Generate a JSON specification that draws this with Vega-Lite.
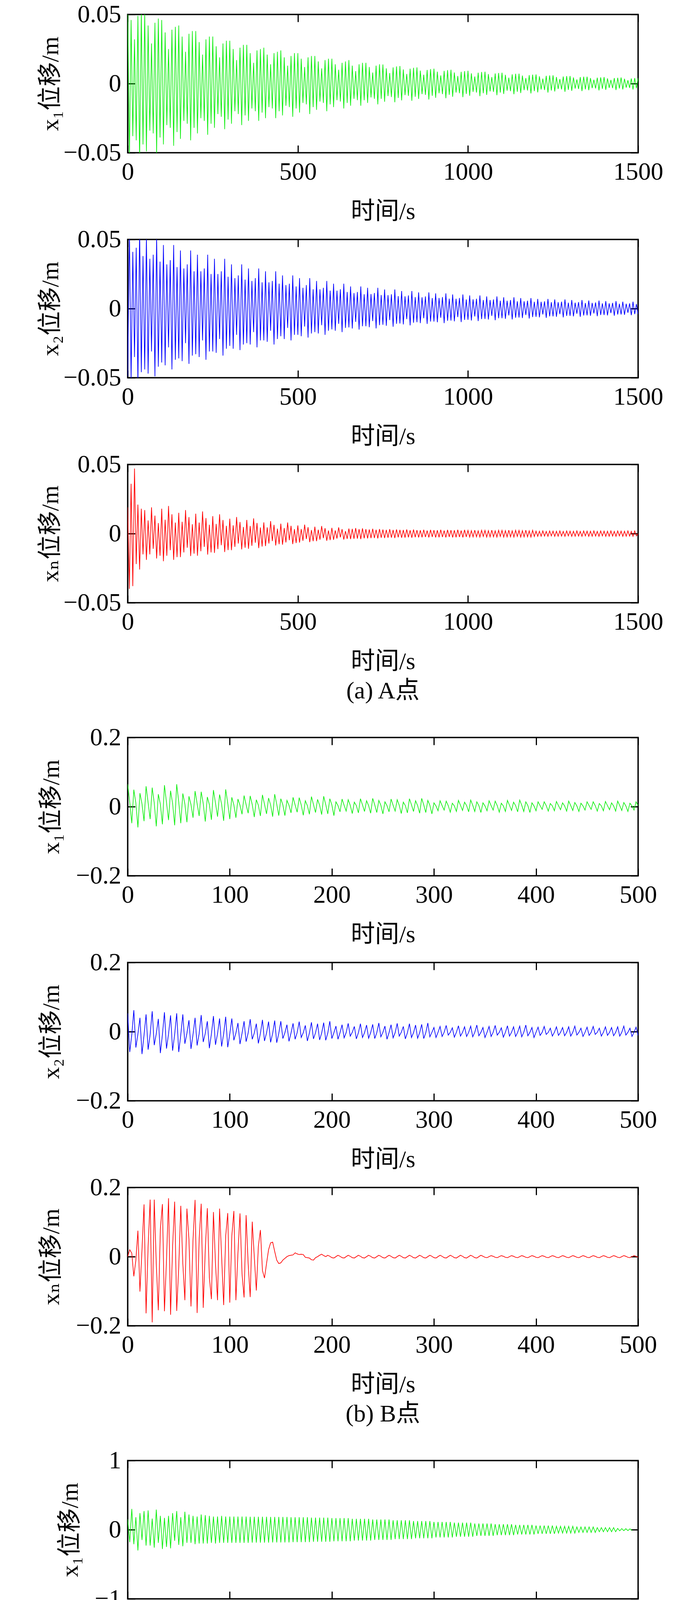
{
"$schema":"https://vega.github.io/schema/vega-lite/v6.json",
"background":"white",
"padding":{"left":97,"top":3,"right":5,"bottom":5},
"config":{
"view":{"stroke":"#000000","strokeWidth":3.5},
"axis":{"domain":false,"grid":false,"ticks":true,"tickSize":-19,"tickWidth":3,"tickColor":"#000000","labelFont":"Liberation Serif","labelFontSize":64,"labelColor":"#000000","labelFlush":false,"labelOverlap":false,"labelBound":false,"titleFont":"Liberation Serif, Noto Sans CJK SC, DejaVu Serif","titleFontSize":62,"titleFontWeight":"normal","titleColor":"#000000"},
"axisX":{"labelPadding":36,"titlePadding":39},
"axisY":{"labelPadding":36,"titlePadding":30},
"title":{"font":"Liberation Serif, Noto Sans CJK SC","fontSize":62,"fontWeight":"normal","color":"#000000"}
},
"datasets":{
"A":[
{"t":0,"a":0.058,"b":-0.049,"n":0.019},{"t":5,"a":-0.055,"b":0.058,"n":-0.04},{"t":10,"a":0.046,"b":-0.052,"n":0.036},{"t":15,"a":-0.038,"b":0.041,"n":-0.038},{"t":20,"a":0.032,"b":-0.035,"n":0.047},{"t":25,"a":-0.041,"b":0.044,"n":-0.022},{"t":30,"a":0.049,"b":-0.055,"n":0.021},{"t":35,"a":-0.057,"b":0.058,"n":-0.026},{"t":40,"a":0.052,"b":-0.046,"n":0.018},{"t":45,"a":-0.044,"b":0.038,"n":-0.015},
{"t":50,"a":0.052,"b":-0.044,"n":0.017},{"t":55,"a":-0.049,"b":0.052,"n":-0.019},{"t":60,"a":0.042,"b":-0.047,"n":0.0095},{"t":65,"a":-0.034,"b":0.036,"n":-0.015},{"t":70,"a":0.029,"b":-0.031,"n":0.019},{"t":75,"a":-0.036,"b":0.039,"n":-0.011},{"t":80,"a":0.044,"b":-0.049,"n":0.013},{"t":85,"a":-0.051,"b":0.052,"n":-0.018},{"t":90,"a":0.047,"b":-0.042,"n":0.0076},{"t":95,"a":-0.039,"b":0.034,"n":-0.016},
{"t":100,"a":0.046,"b":-0.039,"n":0.018},{"t":105,"a":-0.044,"b":0.046,"n":-0.02},{"t":110,"a":0.037,"b":-0.041,"n":0.01},{"t":115,"a":-0.03,"b":0.032,"n":-0.016},{"t":120,"a":0.025,"b":-0.028,"n":0.02},{"t":125,"a":-0.032,"b":0.035,"n":-0.012},{"t":130,"a":0.039,"b":-0.044,"n":0.014},{"t":135,"a":-0.045,"b":0.046,"n":-0.019},{"t":140,"a":0.041,"b":-0.037,"n":0.008},{"t":145,"a":-0.035,"b":0.03,"n":-0.017},
{"t":150,"a":0.042,"b":-0.036,"n":0.015},{"t":155,"a":-0.04,"b":0.042,"n":-0.017},{"t":160,"a":0.034,"b":-0.038,"n":0.0085},{"t":165,"a":-0.027,"b":0.029,"n":-0.0136},{"t":170,"a":0.023,"b":-0.025,"n":0.017},{"t":175,"a":-0.029,"b":0.032,"n":-0.0102},{"t":180,"a":0.036,"b":-0.04,"n":0.0119},{"t":185,"a":-0.041,"b":0.042,"n":-0.0162},{"t":190,"a":0.038,"b":-0.034,"n":0.0068},{"t":195,"a":-0.032,"b":0.027,"n":-0.0145},
{"t":200,"a":0.038,"b":-0.033,"n":0.0144},{"t":205,"a":-0.036,"b":0.039,"n":-0.016},{"t":210,"a":0.03,"b":-0.035,"n":0.008},{"t":215,"a":-0.025,"b":0.027,"n":-0.0128},{"t":220,"a":0.021,"b":-0.023,"n":0.016},{"t":225,"a":-0.027,"b":0.029,"n":-0.0096},{"t":230,"a":0.032,"b":-0.037,"n":0.0112},{"t":235,"a":-0.037,"b":0.039,"n":-0.0152},{"t":240,"a":0.034,"b":-0.031,"n":0.0064},{"t":245,"a":-0.029,"b":0.025,"n":-0.0136},
{"t":250,"a":0.034,"b":-0.031,"n":0.0126},{"t":255,"a":-0.032,"b":0.036,"n":-0.014},{"t":260,"a":0.027,"b":-0.032,"n":0.007},{"t":265,"a":-0.022,"b":0.025,"n":-0.0112},{"t":270,"a":0.019,"b":-0.022,"n":0.014},{"t":275,"a":-0.024,"b":0.027,"n":-0.0084},{"t":280,"a":0.029,"b":-0.034,"n":0.0098},{"t":285,"a":-0.033,"b":0.036,"n":-0.0133},{"t":290,"a":0.031,"b":-0.029,"n":0.0056},{"t":295,"a":-0.026,"b":0.023,"n":-0.0119},
{"t":300,"a":0.031,"b":-0.027,"n":0.0108},{"t":305,"a":-0.029,"b":0.032,"n":-0.012},{"t":310,"a":0.025,"b":-0.029,"n":0.006},{"t":315,"a":-0.02,"b":0.022,"n":-0.0096},{"t":320,"a":0.017,"b":-0.019,"n":0.012},{"t":325,"a":-0.022,"b":0.024,"n":-0.0072},{"t":330,"a":0.026,"b":-0.03,"n":0.0084},{"t":335,"a":-0.03,"b":0.032,"n":-0.0114},{"t":340,"a":0.028,"b":-0.026,"n":0.0048},{"t":345,"a":-0.023,"b":0.021,"n":-0.0102},
{"t":350,"a":0.028,"b":-0.025,"n":0.0099},{"t":355,"a":-0.027,"b":0.029,"n":-0.011},{"t":360,"a":0.022,"b":-0.026,"n":0.0055},{"t":365,"a":-0.018,"b":0.02,"n":-0.0088},{"t":370,"a":0.015,"b":-0.017,"n":0.011},{"t":375,"a":-0.02,"b":0.022,"n":-0.0066},{"t":380,"a":0.024,"b":-0.028,"n":0.0077},{"t":385,"a":-0.027,"b":0.029,"n":-0.0105},{"t":390,"a":0.025,"b":-0.023,"n":0.0044},{"t":395,"a":-0.021,"b":0.019,"n":-0.0094},
{"t":400,"a":0.026,"b":-0.023,"n":0.0081},{"t":405,"a":-0.025,"b":0.027,"n":-0.009},{"t":410,"a":0.021,"b":-0.024,"n":0.0045},{"t":415,"a":-0.017,"b":0.019,"n":-0.0072},{"t":420,"a":0.014,"b":-0.016,"n":0.009},{"t":425,"a":-0.018,"b":0.02,"n":-0.0054},{"t":430,"a":0.022,"b":-0.026,"n":0.0063},{"t":435,"a":-0.025,"b":0.027,"n":-0.0086},{"t":440,"a":0.023,"b":-0.022,"n":0.0036},{"t":445,"a":-0.02,"b":0.018,"n":-0.0077},
{"t":450,"a":0.024,"b":-0.02,"n":0.0072},{"t":455,"a":-0.023,"b":0.024,"n":-0.008},{"t":460,"a":0.019,"b":-0.022,"n":0.004},{"t":465,"a":-0.016,"b":0.017,"n":-0.0064},{"t":470,"a":0.013,"b":-0.014,"n":0.008},{"t":475,"a":-0.017,"b":0.018,"n":-0.0048},{"t":480,"a":0.02,"b":-0.023,"n":0.0056},{"t":485,"a":-0.024,"b":0.024,"n":-0.0076},{"t":490,"a":0.022,"b":-0.019,"n":0.0032},{"t":495,"a":-0.018,"b":0.016,"n":-0.0068},
{"t":500,"a":0.022,"b":-0.019,"n":0.0059},{"t":505,"a":-0.021,"b":0.022,"n":-0.0065},{"t":510,"a":0.018,"b":-0.02,"n":0.0033},{"t":515,"a":-0.014,"b":0.015,"n":-0.0052},{"t":520,"a":0.012,"b":-0.013,"n":0.0065},{"t":525,"a":-0.015,"b":0.017,"n":-0.0039},{"t":530,"a":0.019,"b":-0.021,"n":0.0046},{"t":535,"a":-0.022,"b":0.022,"n":-0.0062},{"t":540,"a":0.02,"b":-0.018,"n":0.0026},{"t":545,"a":-0.017,"b":0.014,"n":-0.0055},
{"t":550,"a":0.02,"b":-0.017,"n":0.005},{"t":555,"a":-0.019,"b":0.02,"n":-0.0055},{"t":560,"a":0.016,"b":-0.018,"n":0.0028},{"t":565,"a":-0.013,"b":0.014,"n":-0.0044},{"t":570,"a":0.011,"b":-0.012,"n":0.0055},{"t":575,"a":-0.014,"b":0.015,"n":-0.0033},{"t":580,"a":0.017,"b":-0.019,"n":0.0039},{"t":585,"a":-0.02,"b":0.02,"n":-0.0052},{"t":590,"a":0.018,"b":-0.016,"n":0.0022},{"t":595,"a":-0.015,"b":0.013,"n":-0.0047},
{"t":600,"a":0.018,"b":-0.015,"n":0.0041},{"t":605,"a":-0.017,"b":0.018,"n":-0.0045},{"t":610,"a":0.014,"b":-0.016,"n":0.0023},{"t":615,"a":-0.012,"b":0.013,"n":-0.0036},{"t":620,"a":0.01,"b":-0.011,"n":0.0045},{"t":625,"a":-0.013,"b":0.014,"n":-0.0027},{"t":630,"a":0.015,"b":-0.017,"n":0.0032},{"t":635,"a":-0.018,"b":0.018,"n":-0.0043},{"t":640,"a":0.016,"b":-0.014,"n":0.0018},{"t":645,"a":-0.014,"b":0.012,"n":-0.0038},
{"t":650,"a":0.017,"b":-0.0136,"n":0.0036},{"t":655,"a":-0.016,"b":0.016,"n":-0.004},{"t":660,"a":0.013,"b":-0.0144,"n":0.0034},{"t":665,"a":-0.011,"b":0.0112,"n":-0.0038},{"t":670,"a":0.009,"b":-0.0096,"n":0.004},{"t":675,"a":-0.012,"b":0.012,"n":-0.0036},{"t":680,"a":0.014,"b":-0.0152,"n":0.0032},{"t":685,"a":-0.016,"b":0.016,"n":-0.004},{"t":690,"a":0.015,"b":-0.0128,"n":0.0038},{"t":695,"a":-0.012,"b":0.0104,"n":-0.0034},
{"t":700,"a":0.015,"b":-0.0128,"n":0.0032},{"t":705,"a":-0.014,"b":0.015,"n":-0.0035},{"t":710,"a":0.012,"b":-0.0135,"n":0.003},{"t":715,"a":-0.01,"b":0.0105,"n":-0.0033},{"t":720,"a":0.008,"b":-0.009,"n":0.0035},{"t":725,"a":-0.011,"b":0.0113,"n":-0.0032},{"t":730,"a":0.013,"b":-0.0143,"n":0.0028},{"t":735,"a":-0.015,"b":0.015,"n":-0.0035},{"t":740,"a":0.014,"b":-0.012,"n":0.0033},{"t":745,"a":-0.011,"b":0.0098,"n":-0.003},
{"t":750,"a":0.0138,"b":-0.0117,"n":0.0029},{"t":755,"a":-0.0131,"b":0.0138,"n":-0.0032},{"t":760,"a":0.011,"b":-0.0124,"n":0.0027},{"t":765,"a":-0.009,"b":0.0097,"n":-0.003},{"t":770,"a":0.0076,"b":-0.0083,"n":0.0032},{"t":775,"a":-0.0097,"b":0.0104,"n":-0.0029},{"t":780,"a":0.0117,"b":-0.0131,"n":0.0026},{"t":785,"a":-0.0135,"b":0.0138,"n":-0.0032},{"t":790,"a":0.0124,"b":-0.011,"n":0.003},{"t":795,"a":-0.0104,"b":0.009,"n":-0.0027},
{"t":800,"a":0.0127,"b":-0.0108,"n":0.0027},{"t":805,"a":-0.0121,"b":0.0127,"n":-0.003},{"t":810,"a":0.0102,"b":-0.0114,"n":0.0026},{"t":815,"a":-0.0083,"b":0.0089,"n":-0.0029},{"t":820,"a":0.007,"b":-0.0076,"n":0.003},{"t":825,"a":-0.0089,"b":0.0095,"n":-0.0027},{"t":830,"a":0.0108,"b":-0.0121,"n":0.0024},{"t":835,"a":-0.0124,"b":0.0127,"n":-0.003},{"t":840,"a":0.0114,"b":-0.0102,"n":0.0029},{"t":845,"a":-0.0095,"b":0.0083,"n":-0.0026},
{"t":850,"a":0.0117,"b":-0.0099,"n":0.0025},{"t":855,"a":-0.0111,"b":0.0117,"n":-0.0028},{"t":860,"a":0.0094,"b":-0.0105,"n":0.0024},{"t":865,"a":-0.0076,"b":0.0082,"n":-0.0027},{"t":870,"a":0.0064,"b":-0.007,"n":0.0028},{"t":875,"a":-0.0082,"b":0.0088,"n":-0.0025},{"t":880,"a":0.0099,"b":-0.0111,"n":0.0022},{"t":885,"a":-0.0115,"b":0.0117,"n":-0.0028},{"t":890,"a":0.0105,"b":-0.0094,"n":0.0027},{"t":895,"a":-0.0088,"b":0.0076,"n":-0.0024},
{"t":900,"a":0.0108,"b":-0.0094,"n":0.0025},{"t":905,"a":-0.0103,"b":0.011,"n":-0.0028},{"t":910,"a":0.0086,"b":-0.0099,"n":0.0024},{"t":915,"a":-0.007,"b":0.0077,"n":-0.0027},{"t":920,"a":0.0059,"b":-0.0066,"n":0.0028},{"t":925,"a":-0.0076,"b":0.0083,"n":-0.0025},{"t":930,"a":0.0092,"b":-0.0105,"n":0.0022},{"t":935,"a":-0.0106,"b":0.011,"n":-0.0028},{"t":940,"a":0.0097,"b":-0.0088,"n":0.0027},{"t":945,"a":-0.0081,"b":0.0072,"n":-0.0024},
{"t":950,"a":0.01,"b":-0.0087,"n":0.0025},{"t":955,"a":-0.0095,"b":0.0102,"n":-0.0028},{"t":960,"a":0.008,"b":-0.0092,"n":0.0024},{"t":965,"a":-0.0065,"b":0.0071,"n":-0.0027},{"t":970,"a":0.0055,"b":-0.0061,"n":0.0028},{"t":975,"a":-0.007,"b":0.0077,"n":-0.0025},{"t":980,"a":0.0085,"b":-0.0097,"n":0.0022},{"t":985,"a":-0.0098,"b":0.0102,"n":-0.0028},{"t":990,"a":0.009,"b":-0.0082,"n":0.0027},{"t":995,"a":-0.0075,"b":0.0066,"n":-0.0024},
{"t":1000,"a":0.0093,"b":-0.0081,"n":0.0023},{"t":1005,"a":-0.0088,"b":0.0095,"n":-0.0025},{"t":1010,"a":0.0074,"b":-0.0086,"n":0.0021},{"t":1015,"a":-0.006,"b":0.0067,"n":-0.0024},{"t":1020,"a":0.0051,"b":-0.0057,"n":0.0025},{"t":1025,"a":-0.0065,"b":0.0071,"n":-0.0023},{"t":1030,"a":0.0079,"b":-0.009,"n":0.002},{"t":1035,"a":-0.0091,"b":0.0095,"n":-0.0025},{"t":1040,"a":0.0084,"b":-0.0076,"n":0.0024},{"t":1045,"a":-0.007,"b":0.0062,"n":-0.0021},
{"t":1050,"a":0.0086,"b":-0.0075,"n":0.0023},{"t":1055,"a":-0.0082,"b":0.0088,"n":-0.0025},{"t":1060,"a":0.0069,"b":-0.0079,"n":0.0021},{"t":1065,"a":-0.0056,"b":0.0062,"n":-0.0024},{"t":1070,"a":0.0047,"b":-0.0053,"n":0.0025},{"t":1075,"a":-0.006,"b":0.0066,"n":-0.0023},{"t":1080,"a":0.0073,"b":-0.0084,"n":0.002},{"t":1085,"a":-0.0084,"b":0.0088,"n":-0.0025},{"t":1090,"a":0.0077,"b":-0.007,"n":0.0024},{"t":1095,"a":-0.0065,"b":0.0057,"n":-0.0021},
{"t":1100,"a":0.0079,"b":-0.007,"n":0.0023},{"t":1105,"a":-0.0075,"b":0.0082,"n":-0.0025},{"t":1110,"a":0.0063,"b":-0.0074,"n":0.0021},{"t":1115,"a":-0.0051,"b":0.0057,"n":-0.0024},{"t":1120,"a":0.0043,"b":-0.0049,"n":0.0025},{"t":1125,"a":-0.0055,"b":0.0062,"n":-0.0023},{"t":1130,"a":0.0067,"b":-0.0078,"n":0.002},{"t":1135,"a":-0.0077,"b":0.0082,"n":-0.0025},{"t":1140,"a":0.0071,"b":-0.0066,"n":0.0024},{"t":1145,"a":-0.0059,"b":0.0053,"n":-0.0021},
{"t":1150,"a":0.0072,"b":-0.0065,"n":0.0023},{"t":1155,"a":-0.0068,"b":0.0076,"n":-0.0025},{"t":1160,"a":0.0058,"b":-0.0068,"n":0.0021},{"t":1165,"a":-0.0047,"b":0.0053,"n":-0.0024},{"t":1170,"a":0.004,"b":-0.0046,"n":0.0025},{"t":1175,"a":-0.005,"b":0.0057,"n":-0.0023},{"t":1180,"a":0.0061,"b":-0.0072,"n":0.002},{"t":1185,"a":-0.0071,"b":0.0076,"n":-0.0025},{"t":1190,"a":0.0065,"b":-0.0061,"n":0.0024},{"t":1195,"a":-0.0054,"b":0.0049,"n":-0.0021},
{"t":1200,"a":0.0066,"b":-0.006,"n":0.0018},{"t":1205,"a":-0.0063,"b":0.007,"n":-0.002},{"t":1210,"a":0.0053,"b":-0.0063,"n":0.0017},{"t":1215,"a":-0.0043,"b":0.0049,"n":-0.0019},{"t":1220,"a":0.0036,"b":-0.0042,"n":0.002},{"t":1225,"a":-0.0046,"b":0.0053,"n":-0.0018},{"t":1230,"a":0.0056,"b":-0.0067,"n":0.0016},{"t":1235,"a":-0.0065,"b":0.007,"n":-0.002},{"t":1240,"a":0.0059,"b":-0.0056,"n":0.0019},{"t":1245,"a":-0.005,"b":0.0046,"n":-0.0017},
{"t":1250,"a":0.006,"b":-0.0056,"n":0.0018},{"t":1255,"a":-0.0057,"b":0.0066,"n":-0.002},{"t":1260,"a":0.0048,"b":-0.0059,"n":0.0017},{"t":1265,"a":-0.0039,"b":0.0046,"n":-0.0019},{"t":1270,"a":0.0033,"b":-0.004,"n":0.002},{"t":1275,"a":-0.0042,"b":0.005,"n":-0.0018},{"t":1280,"a":0.0051,"b":-0.0063,"n":0.0016},{"t":1285,"a":-0.0059,"b":0.0066,"n":-0.002},{"t":1290,"a":0.0054,"b":-0.0053,"n":0.0019},{"t":1295,"a":-0.0045,"b":0.0043,"n":-0.0017},
{"t":1300,"a":0.0055,"b":-0.0053,"n":0.0018},{"t":1305,"a":-0.0052,"b":0.0062,"n":-0.002},{"t":1310,"a":0.0044,"b":-0.0056,"n":0.0017},{"t":1315,"a":-0.0036,"b":0.0043,"n":-0.0019},{"t":1320,"a":0.003,"b":-0.0037,"n":0.002},{"t":1325,"a":-0.0039,"b":0.0047,"n":-0.0018},{"t":1330,"a":0.0047,"b":-0.0059,"n":0.0016},{"t":1335,"a":-0.0054,"b":0.0062,"n":-0.002},{"t":1340,"a":0.005,"b":-0.005,"n":0.0019},{"t":1345,"a":-0.0041,"b":0.004,"n":-0.0017},
{"t":1350,"a":0.005,"b":-0.0049,"n":0.0018},{"t":1355,"a":-0.0048,"b":0.0058,"n":-0.002},{"t":1360,"a":0.004,"b":-0.0052,"n":0.0017},{"t":1365,"a":-0.0033,"b":0.0041,"n":-0.0019},{"t":1370,"a":0.0028,"b":-0.0035,"n":0.002},{"t":1375,"a":-0.0035,"b":0.0044,"n":-0.0018},{"t":1380,"a":0.0043,"b":-0.0055,"n":0.0016},{"t":1385,"a":-0.0049,"b":0.0058,"n":-0.002},{"t":1390,"a":0.0045,"b":-0.0046,"n":0.0019},{"t":1395,"a":-0.0038,"b":0.0038,"n":-0.0017},
{"t":1400,"a":0.0047,"b":-0.0046,"n":0.0018},{"t":1405,"a":-0.0045,"b":0.0054,"n":-0.002},{"t":1410,"a":0.0038,"b":-0.0049,"n":0.0017},{"t":1415,"a":-0.0031,"b":0.0038,"n":-0.0019},{"t":1420,"a":0.0026,"b":-0.0032,"n":0.002},{"t":1425,"a":-0.0033,"b":0.0041,"n":-0.0018},{"t":1430,"a":0.004,"b":-0.0051,"n":0.0016},{"t":1435,"a":-0.0046,"b":0.0054,"n":-0.002},{"t":1440,"a":0.0042,"b":-0.0043,"n":0.0019},{"t":1445,"a":-0.0035,"b":0.0035,"n":-0.0017},
{"t":1450,"a":0.0044,"b":-0.0043,"n":0.0018},{"t":1455,"a":-0.0042,"b":0.005,"n":-0.002},{"t":1460,"a":0.0035,"b":-0.0045,"n":0.0017},{"t":1465,"a":-0.0029,"b":0.0035,"n":-0.0019},{"t":1470,"a":0.0024,"b":-0.003,"n":0.002},{"t":1475,"a":-0.0031,"b":0.0038,"n":-0.0018},{"t":1480,"a":0.0037,"b":-0.0048,"n":0.0016},{"t":1485,"a":-0.0043,"b":0.005,"n":-0.002},{"t":1490,"a":0.004,"b":-0.004,"n":0.0019},{"t":1495,"a":-0.0033,"b":0.0033,"n":-0.0017},
{"t":1500,"a":0.004,"b":-0.004,"n":0}
],
"B":[
{"t":0,"a":0.065,"b":0.053,"n":0},{"t":2,"a":0.013,"b":-0.059,"n":0.02},{"t":4,"a":-0.048,"b":-0.009,"n":0.01},
{"t":6,"a":0.049,"b":0.062,"n":-0.057},{"t":8,"a":0.01,"b":-0.046,"n":-0.01},{"t":10,"a":-0.06,"b":-0.007,"n":0.075},
{"t":12,"a":0.039,"b":0.04,"n":-0.101},{"t":14,"a":0.008,"b":-0.065,"n":0.02},{"t":16,"a":-0.042,"b":-0.01,"n":0.151},
{"t":18,"a":0.059,"b":0.05,"n":-0.164},{"t":20,"a":0.012,"b":-0.052,"n":0.03},{"t":22,"a":-0.036,"b":-0.008,"n":0.165},
{"t":24,"a":0.055,"b":0.059,"n":-0.19},{"t":26,"a":0.011,"b":-0.039,"n":0.165},{"t":28,"a":-0.057,"b":-0.006,"n":-0.02},
{"t":30,"a":0.036,"b":0.037,"n":-0.155},{"t":32,"a":0.007,"b":-0.062,"n":0.08},{"t":34,"a":-0.051,"b":-0.009,"n":0.152},
{"t":36,"a":0.062,"b":0.056,"n":-0.158},{"t":38,"a":0.012,"b":-0.049,"n":-0.01},{"t":40,"a":-0.039,"b":-0.007,"n":0.169},
{"t":42,"a":0.046,"b":0.047,"n":-0.168},{"t":44,"a":0.009,"b":-0.055,"n":0.03},{"t":46,"a":-0.054,"b":-0.008,"n":0.159},
{"t":48,"a":0.065,"b":0.053,"n":-0.157},{"t":50,"a":0.013,"b":-0.059,"n":-0.03},{"t":52,"a":-0.048,"b":-0.009,"n":0.147},
{"t":54,"a":0.038,"b":0.05,"n":-0.02},{"t":56,"a":0.008,"b":-0.035,"n":-0.126},{"t":58,"a":-0.045,"b":-0.005,"n":0.139},
{"t":60,"a":0.03,"b":0.033,"n":0.05},{"t":62,"a":0.006,"b":-0.05,"n":-0.144},{"t":64,"a":-0.032,"b":-0.008,"n":0.05},
{"t":66,"a":0.045,"b":0.04,"n":0.164},{"t":68,"a":0.009,"b":-0.04,"n":-0.163},{"t":70,"a":-0.027,"b":-0.006,"n":0.05},
{"t":72,"a":0.043,"b":0.048,"n":0.153},{"t":74,"a":0.009,"b":-0.03,"n":-0.148},{"t":76,"a":-0.043,"b":-0.005,"n":0.02},
{"t":78,"a":0.028,"b":0.03,"n":0.14},{"t":80,"a":0.006,"b":-0.048,"n":-0.06},{"t":82,"a":-0.038,"b":-0.007,"n":-0.123},
{"t":84,"a":0.048,"b":0.045,"n":0.129},{"t":86,"a":0.01,"b":-0.038,"n":-0.02},{"t":88,"a":-0.029,"b":-0.006,"n":-0.126},
{"t":90,"a":0.035,"b":0.038,"n":0.139},{"t":92,"a":0.007,"b":-0.043,"n":0},{"t":94,"a":-0.041,"b":-0.006,"n":-0.14},
{"t":96,"a":0.05,"b":0.043,"n":0.06},{"t":98,"a":0.01,"b":-0.045,"n":0.126},{"t":100,"a":-0.036,"b":-0.007,"n":-0.133},
{"t":102,"a":0.027,"b":0.038,"n":0.06},{"t":104,"a":0.005,"b":-0.025,"n":0.132},{"t":106,"a":-0.032,"b":-0.004,"n":-0.126},
{"t":108,"a":0.022,"b":0.025,"n":0.01},{"t":110,"a":0.004,"b":-0.036,"n":0.125},{"t":112,"a":-0.022,"b":-0.005,"n":-0.05},
{"t":114,"a":0.032,"b":0.03,"n":-0.118},{"t":116,"a":0.006,"b":-0.029,"n":0.12},{"t":118,"a":-0.019,"b":-0.004,"n":-0.02},
{"t":120,"a":0.031,"b":0.036,"n":-0.117},{"t":122,"a":0.006,"b":-0.022,"n":0.101},{"t":124,"a":-0.03,"b":-0.004,"n":0},
{"t":126,"a":0.02,"b":0.023,"n":-0.098},{"t":128,"a":0.004,"b":-0.034,"n":0.03},{"t":130,"a":-0.027,"b":-0.005,"n":0.077},
{"t":132,"a":0.034,"b":0.034,"n":-0.04},{"t":134,"a":0.007,"b":-0.027,"n":-0.062},{"t":136,"a":-0.021,"b":-0.004,"n":-0.02},
{"t":138,"a":0.025,"b":0.029,"n":0.02},{"t":140,"a":0.005,"b":-0.031,"n":0.04},{"t":142,"a":-0.029,"b":-0.005,"n":0.042},
{"t":144,"a":0.036,"b":0.032,"n":0.015},{"t":146,"a":0.007,"b":-0.032,"n":-0.01},{"t":148,"a":-0.026,"b":-0.005,"n":-0.02},
{"t":150,"a":0.023,"b":0.03,"n":-0.018},{"t":152,"a":0.005,"b":-0.02,"n":-0.01},{"t":154,"a":-0.026,"b":-0.003,"n":-0.005},
{"t":156,"a":0.018,"b":0.02,"n":0},{"t":158,"a":0.004,"b":-0.028,"n":0.003},{"t":160,"a":-0.018,"b":-0.004,"n":0.004},
{"t":162,"a":0.027,"b":0.024,"n":0.005},{"t":164,"a":0.005,"b":-0.022,"n":0.011},{"t":166,"a":-0.016,"b":-0.003,"n":0.008},
{"t":168,"a":0.026,"b":0.029,"n":0.006},{"t":170,"a":0.005,"b":-0.017,"n":0.007},{"t":172,"a":-0.025,"b":-0.003,"n":0.006},
{"t":174,"a":0.017,"b":0.018,"n":-0.002},{"t":176,"a":0.003,"b":-0.027,"n":-0.003},{"t":178,"a":-0.022,"b":-0.004,"n":-0.004},
{"t":180,"a":0.029,"b":0.027,"n":-0.009},{"t":182,"a":0.006,"b":-0.021,"n":-0.01},{"t":184,"a":-0.017,"b":-0.003,"n":-0.003},
{"t":186,"a":0.021,"b":0.023,"n":0},{"t":188,"a":0.004,"b":-0.024,"n":0.004},{"t":190,"a":-0.023,"b":-0.004,"n":0.007},
{"t":192,"a":0.03,"b":0.026,"n":0.003},{"t":194,"a":0.006,"b":-0.025,"n":0},{"t":196,"a":-0.021,"b":-0.004,"n":0.004},
{"t":198,"a":0.023,"b":0.03,"n":0.001},{"t":200,"a":0.005,"b":-0.02,"n":-0.003},{"t":202,"a":-0.026,"b":-0.003,"n":-0.004},
{"t":204,"a":0.014,"b":0.016,"n":0},{"t":206,"a":0.003,"b":-0.022,"n":0.004},{"t":208,"a":-0.015,"b":-0.003,"n":0.001},
{"t":210,"a":0.022,"b":0.02,"n":-0.003},{"t":212,"a":0.004,"b":-0.018,"n":-0.004},{"t":214,"a":-0.013,"b":-0.003,"n":0},
{"t":216,"a":0.02,"b":0.024,"n":0.004},{"t":218,"a":0.004,"b":-0.013,"n":0.001},{"t":220,"a":-0.02,"b":-0.002,"n":-0.003},
{"t":222,"a":0.013,"b":0.015,"n":-0.004},{"t":224,"a":0.003,"b":-0.021,"n":0},{"t":226,"a":-0.018,"b":-0.003,"n":0.004},
{"t":228,"a":0.023,"b":0.023,"n":0.001},{"t":230,"a":0.005,"b":-0.017,"n":-0.003},{"t":232,"a":-0.014,"b":-0.003,"n":-0.004},
{"t":234,"a":0.017,"b":0.019,"n":0},{"t":236,"a":0.003,"b":-0.019,"n":0.004},{"t":238,"a":-0.019,"b":-0.003,"n":0.001},
{"t":240,"a":0.024,"b":0.021,"n":-0.003},{"t":242,"a":0.005,"b":-0.02,"n":-0.004},{"t":244,"a":-0.017,"b":-0.003,"n":0},
{"t":246,"a":0.018,"b":0.025,"n":0.004},{"t":248,"a":0.004,"b":-0.015,"n":0.001},{"t":250,"a":-0.021,"b":-0.002,"n":-0.003},
{"t":252,"a":0.014,"b":0.016,"n":-0.004},{"t":254,"a":0.003,"b":-0.022,"n":0},{"t":256,"a":-0.015,"b":-0.003,"n":0.004},
{"t":258,"a":0.022,"b":0.02,"n":0.001},{"t":260,"a":0.004,"b":-0.018,"n":-0.003},{"t":262,"a":-0.013,"b":-0.003,"n":-0.004},
{"t":264,"a":0.02,"b":0.024,"n":0},{"t":266,"a":0.004,"b":-0.013,"n":0.004},{"t":268,"a":-0.02,"b":-0.002,"n":0.001},
{"t":270,"a":0.013,"b":0.015,"n":-0.003},{"t":272,"a":0.003,"b":-0.021,"n":-0.004},{"t":274,"a":-0.018,"b":-0.003,"n":0},
{"t":276,"a":0.023,"b":0.023,"n":0.004},{"t":278,"a":0.005,"b":-0.017,"n":0.001},{"t":280,"a":-0.014,"b":-0.003,"n":-0.003},
{"t":282,"a":0.017,"b":0.019,"n":-0.004},{"t":284,"a":0.003,"b":-0.019,"n":0},{"t":286,"a":-0.019,"b":-0.003,"n":0.004},
{"t":288,"a":0.024,"b":0.021,"n":0.001},{"t":290,"a":0.005,"b":-0.02,"n":-0.003},{"t":292,"a":-0.017,"b":-0.003,"n":-0.004},
{"t":294,"a":0.018,"b":0.025,"n":0},{"t":296,"a":0.004,"b":-0.015,"n":0.004},{"t":298,"a":-0.021,"b":-0.002,"n":0.001},
{"t":300,"a":0.011,"b":0.012,"n":-0.003},{"t":302,"a":0.002,"b":-0.017,"n":-0.004},{"t":304,"a":-0.012,"b":-0.002,"n":0},
{"t":306,"a":0.017,"b":0.015,"n":0.004},{"t":308,"a":0.003,"b":-0.014,"n":0.001},{"t":310,"a":-0.01,"b":-0.002,"n":-0.003},
{"t":312,"a":0.016,"b":0.018,"n":-0.004},{"t":314,"a":0.003,"b":-0.01,"n":0},{"t":316,"a":-0.016,"b":-0.002,"n":0.004},
{"t":318,"a":0.01,"b":0.011,"n":0.001},{"t":320,"a":0.002,"b":-0.016,"n":-0.003},{"t":322,"a":-0.014,"b":-0.002,"n":-0.004},
{"t":324,"a":0.018,"b":0.017,"n":0},{"t":326,"a":0.004,"b":-0.013,"n":0.004},{"t":328,"a":-0.011,"b":-0.002,"n":0.001},
{"t":330,"a":0.013,"b":0.014,"n":-0.003},{"t":332,"a":0.003,"b":-0.014,"n":-0.004},{"t":334,"a":-0.015,"b":-0.002,"n":0},
{"t":336,"a":0.019,"b":0.016,"n":0.004},{"t":338,"a":0.004,"b":-0.015,"n":0.001},{"t":340,"a":-0.014,"b":-0.002,"n":-0.003},
{"t":342,"a":0.014,"b":0.019,"n":-0.004},{"t":344,"a":0.003,"b":-0.012,"n":0},{"t":346,"a":-0.017,"b":-0.002,"n":0.004},
{"t":348,"a":0.011,"b":0.012,"n":0.001},{"t":350,"a":0.002,"b":-0.017,"n":-0.002},{"t":352,"a":-0.012,"b":-0.002,"n":-0.003},
{"t":354,"a":0.017,"b":0.015,"n":0},{"t":356,"a":0.003,"b":-0.014,"n":0.003},{"t":358,"a":-0.01,"b":-0.002,"n":0.001},
{"t":360,"a":0.016,"b":0.018,"n":-0.002},{"t":362,"a":0.003,"b":-0.01,"n":-0.003},{"t":364,"a":-0.016,"b":-0.002,"n":0},
{"t":366,"a":0.01,"b":0.011,"n":0.003},{"t":368,"a":0.002,"b":-0.016,"n":0.001},{"t":370,"a":-0.014,"b":-0.002,"n":-0.002},
{"t":372,"a":0.018,"b":0.017,"n":-0.003},{"t":374,"a":0.004,"b":-0.013,"n":0},{"t":376,"a":-0.011,"b":-0.002,"n":0.003},
{"t":378,"a":0.013,"b":0.014,"n":0.001},{"t":380,"a":0.003,"b":-0.014,"n":-0.002},{"t":382,"a":-0.015,"b":-0.002,"n":-0.003},
{"t":384,"a":0.019,"b":0.016,"n":0},{"t":386,"a":0.004,"b":-0.015,"n":0.003},{"t":388,"a":-0.014,"b":-0.002,"n":0.001},
{"t":390,"a":0.014,"b":0.019,"n":-0.002},{"t":392,"a":0.003,"b":-0.012,"n":-0.003},{"t":394,"a":-0.017,"b":-0.002,"n":0},
{"t":396,"a":0.011,"b":0.012,"n":0.003},{"t":398,"a":0.002,"b":-0.017,"n":0.001},{"t":400,"a":-0.012,"b":-0.002,"n":-0.002},
{"t":402,"a":0.014,"b":0.013,"n":-0.003},{"t":404,"a":0.003,"b":-0.011,"n":0},{"t":406,"a":-0.008,"b":-0.002,"n":0.003},
{"t":408,"a":0.014,"b":0.015,"n":0.001},{"t":410,"a":0.003,"b":-0.008,"n":-0.002},{"t":412,"a":-0.013,"b":-0.002,"n":-0.003},
{"t":414,"a":0.009,"b":0.01,"n":0},{"t":416,"a":0.002,"b":-0.013,"n":0.003},{"t":418,"a":-0.012,"b":-0.002,"n":0.001},
{"t":420,"a":0.015,"b":0.014,"n":-0.002},{"t":422,"a":0.003,"b":-0.011,"n":-0.003},{"t":424,"a":-0.009,"b":-0.002,"n":0},
{"t":426,"a":0.011,"b":0.012,"n":0.003},{"t":428,"a":0.002,"b":-0.012,"n":0.001},{"t":430,"a":-0.013,"b":-0.002,"n":-0.002},
{"t":432,"a":0.016,"b":0.014,"n":-0.003},{"t":434,"a":0.003,"b":-0.013,"n":0},{"t":436,"a":-0.011,"b":-0.002,"n":0.003},
{"t":438,"a":0.012,"b":0.016,"n":0.001},{"t":440,"a":0.002,"b":-0.01,"n":-0.002},{"t":442,"a":-0.014,"b":-0.002,"n":-0.003},
{"t":444,"a":0.01,"b":0.01,"n":0},{"t":446,"a":0.002,"b":-0.014,"n":0.003},{"t":448,"a":-0.01,"b":-0.002,"n":0.001},
{"t":450,"a":0.014,"b":0.013,"n":-0.002},{"t":452,"a":0.003,"b":-0.011,"n":-0.003},{"t":454,"a":-0.008,"b":-0.002,"n":0},
{"t":456,"a":0.014,"b":0.015,"n":0.003},{"t":458,"a":0.003,"b":-0.008,"n":0.001},{"t":460,"a":-0.013,"b":-0.002,"n":-0.002},
{"t":462,"a":0.009,"b":0.01,"n":-0.003},{"t":464,"a":0.002,"b":-0.013,"n":0},{"t":466,"a":-0.012,"b":-0.002,"n":0.003},
{"t":468,"a":0.015,"b":0.014,"n":0.001},{"t":470,"a":0.003,"b":-0.011,"n":-0.002},{"t":472,"a":-0.009,"b":-0.002,"n":-0.003},
{"t":474,"a":0.011,"b":0.012,"n":0},{"t":476,"a":0.002,"b":-0.012,"n":0.003},{"t":478,"a":-0.013,"b":-0.002,"n":0.001},
{"t":480,"a":0.016,"b":0.014,"n":-0.002},{"t":482,"a":0.003,"b":-0.013,"n":-0.003},{"t":484,"a":-0.011,"b":-0.002,"n":0},
{"t":486,"a":0.012,"b":0.016,"n":0.003},{"t":488,"a":0.002,"b":-0.01,"n":0.001},{"t":490,"a":-0.014,"b":-0.002,"n":-0.002},
{"t":492,"a":0.01,"b":0.01,"n":-0.003},{"t":494,"a":0.002,"b":-0.014,"n":0},{"t":496,"a":-0.01,"b":-0.002,"n":0.003},
{"t":498,"a":0.014,"b":0.013,"n":0.001},{"t":500,"a":0.003,"b":-0.011,"n":-0.002}
],
"D":[
{"t":0,"a":0.15,"b":0.09,"n":0.33},{"t":4,"a":-0.18,"b":-0.3,"n":-0.6},{"t":8,"a":0.3,"b":0.26,"n":0.17},{"t":12,"a":-0.21,"b":-0.15,"n":-0.28},{"t":16,"a":0.18,"b":0.3,"n":0.58},{"t":20,"a":-0.3,"b":-0.21,"n":-0.11},{"t":24,"a":0.24,"b":0.18,"n":0.39},{"t":28,"a":-0.15,"b":-0.27,"n":-0.5},{"t":32,"a":0.27,"b":0.3,"n":0.22},{"t":36,"a":-0.23,"b":-0.17,"n":-0.17},
{"t":40,"a":0.28,"b":0.2,"n":0.58},{"t":44,"a":-0.23,"b":-0.27,"n":-0.2},{"t":48,"a":0.16,"b":0.25,"n":0.3},{"t":52,"a":-0.26,"b":-0.17,"n":-0.5},{"t":56,"a":0.29,"b":0.15,"n":0.15},{"t":60,"a":-0.19,"b":-0.28,"n":-0.35},{"t":64,"a":0.2,"b":0.27,"n":0.5},{"t":68,"a":-0.28,"b":-0.21,"n":-0.25},{"t":72,"a":0.17,"b":0.22,"n":0.1},{"t":76,"a":-0.25,"b":-0.25,"n":-0.4},
{"t":80,"a":0.2,"b":0.25,"n":0.45},{"t":84,"a":-0.27,"b":-0.18,"n":-0.15},{"t":88,"a":0.24,"b":0.15,"n":0.25},{"t":92,"a":-0.16,"b":-0.24,"n":-0.53},{"t":96,"a":0.27,"b":0.23,"n":0.1},{"t":100,"a":-0.22,"b":-0.2,"n":-0.3},{"t":104,"a":0.18,"b":0.25,"n":0.48},{"t":108,"a":-0.24,"b":-0.16,"n":-0.4},{"t":112,"a":0.26,"b":0.19,"n":0.18},{"t":116,"a":-0.19,"b":-0.25,"n":-0.25},
{"t":120,"a":0.22,"b":0.19,"n":0.23},{"t":124,"a":-0.19,"b":-0.21,"n":-0.45},{"t":128,"a":0.2,"b":0.2,"n":0.4},{"t":132,"a":-0.21,"b":-0.19,"n":-0.14},{"t":136,"a":0.19,"b":0.21,"n":0.07},{"t":140,"a":-0.2,"b":-0.2,"n":-0.32},{"t":144,"a":0.22,"b":0.19,"n":0.45},{"t":148,"a":-0.2,"b":-0.21,"n":-0.18},{"t":152,"a":0.21,"b":0.2,"n":0.27},{"t":156,"a":-0.2,"b":-0.2,"n":-0.4},
{"t":160,"a":0.2,"b":0.195,"n":0.23},{"t":164,"a":-0.19,"b":-0.195,"n":-0.3},{"t":168,"a":0.19,"b":0.195,"n":0.33},{"t":172,"a":-0.2,"b":-0.195,"n":-0.33},{"t":176,"a":0.19,"b":0.195,"n":0.33},{"t":180,"a":-0.19,"b":-0.195,"n":-0.33},{"t":184,"a":0.2,"b":0.195,"n":0.33},{"t":188,"a":-0.19,"b":-0.195,"n":-0.33},{"t":192,"a":0.19,"b":0.195,"n":0.33},{"t":196,"a":-0.19,"b":-0.195,"n":-0.33},
{"t":200,"a":0.19,"b":0.19,"n":0.33},{"t":204,"a":-0.19,"b":-0.19,"n":-0.33},{"t":208,"a":0.19,"b":0.19,"n":0.33},{"t":212,"a":-0.19,"b":-0.19,"n":-0.33},{"t":216,"a":0.19,"b":0.19,"n":0.33},{"t":220,"a":-0.19,"b":-0.19,"n":-0.33},{"t":224,"a":0.19,"b":0.19,"n":0.33},{"t":228,"a":-0.19,"b":-0.19,"n":-0.33},{"t":232,"a":0.19,"b":0.19,"n":0.33},{"t":236,"a":-0.19,"b":-0.19,"n":-0.33},
{"t":240,"a":0.188,"b":0.187,"n":0.33},{"t":244,"a":-0.188,"b":-0.187,"n":-0.33},{"t":248,"a":0.188,"b":0.187,"n":0.33},{"t":252,"a":-0.188,"b":-0.187,"n":-0.33},{"t":256,"a":0.188,"b":0.187,"n":0.33},{"t":260,"a":-0.188,"b":-0.187,"n":-0.33},{"t":264,"a":0.188,"b":0.187,"n":0.33},{"t":268,"a":-0.188,"b":-0.187,"n":-0.33},{"t":272,"a":0.188,"b":0.187,"n":0.33},{"t":276,"a":-0.188,"b":-0.187,"n":-0.33},
{"t":280,"a":0.185,"b":0.183,"n":0.32},{"t":284,"a":-0.185,"b":-0.183,"n":-0.32},{"t":288,"a":0.185,"b":0.183,"n":0.32},{"t":292,"a":-0.185,"b":-0.183,"n":-0.32},{"t":296,"a":0.185,"b":0.183,"n":0.32},{"t":300,"a":-0.185,"b":-0.183,"n":-0.32},{"t":304,"a":0.185,"b":0.183,"n":0.32},{"t":308,"a":-0.185,"b":-0.183,"n":-0.32},{"t":312,"a":0.185,"b":0.183,"n":0.32},{"t":316,"a":-0.185,"b":-0.183,"n":-0.32},
{"t":320,"a":0.18,"b":0.178,"n":0.32},{"t":324,"a":-0.18,"b":-0.178,"n":-0.32},{"t":328,"a":0.18,"b":0.178,"n":0.32},{"t":332,"a":-0.18,"b":-0.178,"n":-0.32},{"t":336,"a":0.18,"b":0.178,"n":0.32},{"t":340,"a":-0.18,"b":-0.178,"n":-0.32},{"t":344,"a":0.18,"b":0.178,"n":0.32},{"t":348,"a":-0.18,"b":-0.178,"n":-0.32},{"t":352,"a":0.18,"b":0.178,"n":0.32},{"t":356,"a":-0.18,"b":-0.178,"n":-0.32},
{"t":360,"a":0.175,"b":0.172,"n":0.32},{"t":364,"a":-0.175,"b":-0.172,"n":-0.32},{"t":368,"a":0.175,"b":0.172,"n":0.32},{"t":372,"a":-0.175,"b":-0.172,"n":-0.32},{"t":376,"a":0.175,"b":0.172,"n":0.32},{"t":380,"a":-0.175,"b":-0.172,"n":-0.32},{"t":384,"a":0.175,"b":0.172,"n":0.32},{"t":388,"a":-0.175,"b":-0.172,"n":-0.32},{"t":392,"a":0.175,"b":0.172,"n":0.32},{"t":396,"a":-0.175,"b":-0.172,"n":-0.32},
{"t":400,"a":0.168,"b":0.165,"n":0.32},{"t":404,"a":-0.168,"b":-0.165,"n":-0.32},{"t":408,"a":0.168,"b":0.165,"n":0.32},{"t":412,"a":-0.168,"b":-0.165,"n":-0.32},{"t":416,"a":0.168,"b":0.165,"n":0.32},{"t":420,"a":-0.168,"b":-0.165,"n":-0.32},{"t":424,"a":0.168,"b":0.165,"n":0.32},{"t":428,"a":-0.168,"b":-0.165,"n":-0.32},{"t":432,"a":0.168,"b":0.165,"n":0.32},{"t":436,"a":-0.168,"b":-0.165,"n":-0.32},
{"t":440,"a":0.158,"b":0.157,"n":0.32},{"t":444,"a":-0.158,"b":-0.157,"n":-0.32},{"t":448,"a":0.158,"b":0.157,"n":0.32},{"t":452,"a":-0.158,"b":-0.157,"n":-0.32},{"t":456,"a":0.158,"b":0.157,"n":0.32},{"t":460,"a":-0.158,"b":-0.157,"n":-0.32},{"t":464,"a":0.158,"b":0.157,"n":0.32},{"t":468,"a":-0.158,"b":-0.157,"n":-0.32},{"t":472,"a":0.158,"b":0.157,"n":0.32},{"t":476,"a":-0.158,"b":-0.157,"n":-0.32},
{"t":480,"a":0.148,"b":0.148,"n":0.32},{"t":484,"a":-0.148,"b":-0.148,"n":-0.32},{"t":488,"a":0.148,"b":0.148,"n":0.32},{"t":492,"a":-0.148,"b":-0.148,"n":-0.32},{"t":496,"a":0.148,"b":0.148,"n":0.32},{"t":500,"a":-0.148,"b":-0.148,"n":-0.32},{"t":504,"a":0.148,"b":0.148,"n":0.32},{"t":508,"a":-0.148,"b":-0.148,"n":-0.32},{"t":512,"a":0.148,"b":0.148,"n":0.32},{"t":516,"a":-0.148,"b":-0.148,"n":-0.32},
{"t":520,"a":0.137,"b":0.139,"n":0.31},{"t":524,"a":-0.137,"b":-0.139,"n":-0.31},{"t":528,"a":0.137,"b":0.139,"n":0.31},{"t":532,"a":-0.137,"b":-0.139,"n":-0.31},{"t":536,"a":0.137,"b":0.139,"n":0.31},{"t":540,"a":-0.137,"b":-0.139,"n":-0.31},{"t":544,"a":0.137,"b":0.139,"n":0.31},{"t":548,"a":-0.137,"b":-0.139,"n":-0.31},{"t":552,"a":0.137,"b":0.139,"n":0.31},{"t":556,"a":-0.137,"b":-0.139,"n":-0.31},
{"t":560,"a":0.125,"b":0.13,"n":0.3},{"t":564,"a":-0.125,"b":-0.13,"n":-0.3},{"t":568,"a":0.125,"b":0.13,"n":0.3},{"t":572,"a":-0.125,"b":-0.13,"n":-0.3},{"t":576,"a":0.125,"b":0.13,"n":0.3},{"t":580,"a":-0.125,"b":-0.13,"n":-0.3},{"t":584,"a":0.125,"b":0.13,"n":0.3},{"t":588,"a":-0.125,"b":-0.13,"n":-0.3},{"t":592,"a":0.125,"b":0.13,"n":0.3},{"t":596,"a":-0.125,"b":-0.13,"n":-0.3},
{"t":600,"a":0.113,"b":0.12,"n":0.28},{"t":604,"a":-0.113,"b":-0.12,"n":-0.28},{"t":608,"a":0.113,"b":0.12,"n":0.28},{"t":612,"a":-0.113,"b":-0.12,"n":-0.28},{"t":616,"a":0.113,"b":0.12,"n":0.28},{"t":620,"a":-0.113,"b":-0.12,"n":-0.28},{"t":624,"a":0.113,"b":0.12,"n":0.28},{"t":628,"a":-0.113,"b":-0.12,"n":-0.28},{"t":632,"a":0.113,"b":0.12,"n":0.28},{"t":636,"a":-0.113,"b":-0.12,"n":-0.28},
{"t":640,"a":0.102,"b":0.11,"n":0.27},{"t":644,"a":-0.102,"b":-0.11,"n":-0.27},{"t":648,"a":0.102,"b":0.11,"n":0.27},{"t":652,"a":-0.102,"b":-0.11,"n":-0.27},{"t":656,"a":0.102,"b":0.11,"n":0.27},{"t":660,"a":-0.102,"b":-0.11,"n":-0.27},{"t":664,"a":0.102,"b":0.11,"n":0.27},{"t":668,"a":-0.102,"b":-0.11,"n":-0.27},{"t":672,"a":0.102,"b":0.11,"n":0.27},{"t":676,"a":-0.102,"b":-0.11,"n":-0.27},
{"t":680,"a":0.09,"b":0.1,"n":0.255},{"t":684,"a":-0.09,"b":-0.1,"n":-0.255},{"t":688,"a":0.09,"b":0.1,"n":0.255},{"t":692,"a":-0.09,"b":-0.1,"n":-0.255},{"t":696,"a":0.09,"b":0.1,"n":0.255},{"t":700,"a":-0.09,"b":-0.1,"n":-0.255},{"t":704,"a":0.09,"b":0.1,"n":0.255},{"t":708,"a":-0.09,"b":-0.1,"n":-0.255},{"t":712,"a":0.09,"b":0.1,"n":0.255},{"t":716,"a":-0.09,"b":-0.1,"n":-0.255},
{"t":720,"a":0.08,"b":0.09,"n":0.24},{"t":724,"a":-0.08,"b":-0.09,"n":-0.24},{"t":728,"a":0.08,"b":0.09,"n":0.24},{"t":732,"a":-0.08,"b":-0.09,"n":-0.24},{"t":736,"a":0.08,"b":0.09,"n":0.24},{"t":740,"a":-0.08,"b":-0.09,"n":-0.24},{"t":744,"a":0.08,"b":0.09,"n":0.24},{"t":748,"a":-0.08,"b":-0.09,"n":-0.24},{"t":752,"a":0.08,"b":0.09,"n":0.24},{"t":756,"a":-0.08,"b":-0.09,"n":-0.24},
{"t":760,"a":0.07,"b":0.08,"n":0.225},{"t":764,"a":-0.07,"b":-0.08,"n":-0.225},{"t":768,"a":0.07,"b":0.08,"n":0.225},{"t":772,"a":-0.07,"b":-0.08,"n":-0.225},{"t":776,"a":0.07,"b":0.08,"n":0.225},{"t":780,"a":-0.07,"b":-0.08,"n":-0.225},{"t":784,"a":0.07,"b":0.08,"n":0.225},{"t":788,"a":-0.07,"b":-0.08,"n":-0.225},{"t":792,"a":0.07,"b":0.08,"n":0.225},{"t":796,"a":-0.07,"b":-0.08,"n":-0.225},
{"t":800,"a":0.06,"b":0.07,"n":0.21},{"t":804,"a":-0.06,"b":-0.07,"n":-0.21},{"t":808,"a":0.06,"b":0.07,"n":0.21},{"t":812,"a":-0.06,"b":-0.07,"n":-0.21},{"t":816,"a":0.06,"b":0.07,"n":0.21},{"t":820,"a":-0.06,"b":-0.07,"n":-0.21},{"t":824,"a":0.06,"b":0.07,"n":0.21},{"t":828,"a":-0.06,"b":-0.07,"n":-0.21},{"t":832,"a":0.06,"b":0.07,"n":0.21},{"t":836,"a":-0.06,"b":-0.07,"n":-0.21},
{"t":840,"a":0.05,"b":0.06,"n":0.185},{"t":844,"a":-0.05,"b":-0.06,"n":-0.185},{"t":848,"a":0.05,"b":0.06,"n":0.185},{"t":852,"a":-0.05,"b":-0.06,"n":-0.185},{"t":856,"a":0.05,"b":0.06,"n":0.185},{"t":860,"a":-0.05,"b":-0.06,"n":-0.185},{"t":864,"a":0.05,"b":0.06,"n":0.185},{"t":868,"a":-0.05,"b":-0.06,"n":-0.185},{"t":872,"a":0.05,"b":0.06,"n":0.185},{"t":876,"a":-0.05,"b":-0.06,"n":-0.185},
{"t":880,"a":0.04,"b":0.05,"n":0.15},{"t":884,"a":-0.04,"b":-0.05,"n":-0.13},{"t":888,"a":0.04,"b":0.05,"n":0.1},{"t":892,"a":-0.04,"b":-0.05,"n":-0.07},{"t":896,"a":0.04,"b":0.05,"n":0.05},{"t":900,"a":-0.04,"b":-0.05,"n":0.02},{"t":904,"a":0.04,"b":0.05,"n":0.05},{"t":908,"a":-0.04,"b":-0.05,"n":-0.03},{"t":912,"a":0.04,"b":0.05,"n":-0.02},{"t":916,"a":-0.04,"b":-0.05,"n":-0.01},
{"t":920,"a":0.03,"b":0.04,"n":-0.005},{"t":924,"a":-0.03,"b":-0.04,"n":-0.004},{"t":928,"a":0.03,"b":0.04,"n":-0.005},{"t":932,"a":-0.03,"b":-0.04,"n":-0.004},{"t":936,"a":0.03,"b":0.04,"n":-0.005},{"t":940,"a":-0.03,"b":-0.04,"n":-0.004},{"t":944,"a":0.03,"b":0.04,"n":-0.004},{"t":948,"a":-0.03,"b":-0.04,"n":-0.003},{"t":952,"a":0.03,"b":0.04,"n":-0.003},{"t":956,"a":-0.03,"b":-0.04,"n":-0.003},
{"t":960,"a":0.018,"b":0.028,"n":-0.003},{"t":964,"a":-0.017,"b":-0.027,"n":-0.002},{"t":968,"a":0.016,"b":0.026,"n":-0.002},{"t":972,"a":-0.015,"b":-0.025,"n":-0.002},{"t":976,"a":0.014,"b":0.024,"n":-0.002},{"t":980,"a":-0.013,"b":-0.023,"n":-0.001},{"t":984,"a":0.012,"b":0.022,"n":-0.001},{"t":988,"a":-0.012,"b":-0.021,"n":0}
],
"E":[
{"t":0,"a":0.54,"b":-0.47,"n":0.48},{"t":6,"a":-0.41,"b":0.52,"n":-0.8},{"t":12,"a":0.32,"b":-0.34,"n":0.8},{"t":18,"a":-0.54,"b":0.44,"n":-0.4},{"t":24,"a":0.46,"b":-0.52,"n":0.6},{"t":30,"a":-0.3,"b":0.36,"n":-0.72},{"t":36,"a":0.51,"b":-0.42,"n":0.32},{"t":42,"a":-0.43,"b":0.49,"n":-0.56},{"t":48,"a":0.38,"b":-0.31,"n":0.76},{"t":54,"a":-0.49,"b":0.47,"n":-0.48},
{"t":60,"a":0.48,"b":-0.42,"n":0.38},{"t":66,"a":-0.36,"b":0.47,"n":-0.71},{"t":72,"a":0.29,"b":-0.31,"n":0.68},{"t":78,"a":-0.48,"b":0.4,"n":-0.3},{"t":84,"a":0.41,"b":-0.47,"n":0.75},{"t":90,"a":-0.26,"b":0.33,"n":-0.53},{"t":96,"a":0.46,"b":-0.38,"n":0.45},{"t":102,"a":-0.38,"b":0.45,"n":-0.75},{"t":108,"a":0.34,"b":-0.28,"n":0.34},{"t":114,"a":-0.43,"b":0.42,"n":-0.6},
{"t":120,"a":0.42,"b":-0.42,"n":0.65},{"t":126,"a":-0.39,"b":0.38,"n":-0.41},{"t":132,"a":0.37,"b":-0.4,"n":0.48},{"t":138,"a":-0.42,"b":0.37,"n":-0.68},{"t":144,"a":0.4,"b":-0.41,"n":0.34},{"t":150,"a":-0.36,"b":0.39,"n":-0.58},{"t":156,"a":0.41,"b":-0.42,"n":0.68},{"t":162,"a":-0.39,"b":0.36,"n":-0.37},{"t":168,"a":0.38,"b":-0.39,"n":0.54},{"t":174,"a":-0.41,"b":0.4,"n":-0.61},
{"t":180,"a":0.38,"b":-0.37,"n":0.42},{"t":186,"a":-0.35,"b":0.33,"n":-0.6},{"t":192,"a":0.33,"b":-0.35,"n":0.57},{"t":198,"a":-0.38,"b":0.33,"n":-0.39},{"t":204,"a":0.36,"b":-0.36,"n":0.6},{"t":210,"a":-0.32,"b":0.34,"n":-0.48},{"t":216,"a":0.37,"b":-0.37,"n":0.45},{"t":222,"a":-0.35,"b":0.32,"n":-0.57},{"t":228,"a":0.34,"b":-0.34,"n":0.54},{"t":234,"a":-0.37,"b":0.35,"n":-0.42},
{"t":240,"a":0.33,"b":-0.32,"n":0.52},{"t":246,"a":-0.3,"b":0.29,"n":-0.44},{"t":252,"a":0.29,"b":-0.3,"n":0.42},{"t":258,"a":-0.33,"b":0.28,"n":-0.52},{"t":264,"a":0.31,"b":-0.31,"n":0.47},{"t":270,"a":-0.28,"b":0.29,"n":-0.39},{"t":276,"a":0.32,"b":-0.32,"n":0.49},{"t":282,"a":-0.31,"b":0.28,"n":-0.47},{"t":288,"a":0.3,"b":-0.3,"n":0.44},{"t":294,"a":-0.32,"b":0.3,"n":-0.52},
{"t":300,"a":0.3,"b":-0.29,"n":0.47},{"t":306,"a":-0.28,"b":0.26,"n":-0.45},{"t":312,"a":0.26,"b":-0.28,"n":0.42},{"t":318,"a":-0.3,"b":0.26,"n":-0.47},{"t":324,"a":0.29,"b":-0.28,"n":0.45},{"t":330,"a":-0.26,"b":0.27,"n":-0.42},{"t":336,"a":0.29,"b":-0.29,"n":0.47},{"t":342,"a":-0.28,"b":0.25,"n":-0.45},{"t":348,"a":0.27,"b":-0.27,"n":0.43},{"t":354,"a":-0.29,"b":0.28,"n":-0.47},
{"t":360,"a":0.27,"b":-0.26,"n":0.43},{"t":366,"a":-0.25,"b":0.23,"n":-0.42},{"t":372,"a":0.24,"b":-0.25,"n":0.4},{"t":378,"a":-0.27,"b":0.23,"n":-0.43},{"t":384,"a":0.26,"b":-0.25,"n":0.42},{"t":390,"a":-0.23,"b":0.24,"n":-0.4},{"t":396,"a":0.26,"b":-0.26,"n":0.43},{"t":402,"a":-0.25,"b":0.22,"n":-0.41},{"t":408,"a":0.24,"b":-0.24,"n":0.4},{"t":414,"a":-0.26,"b":0.25,"n":-0.43},
{"t":420,"a":0.25,"b":-0.24,"n":0.41},{"t":426,"a":-0.23,"b":0.22,"n":-0.4},{"t":432,"a":0.22,"b":-0.23,"n":0.39},{"t":438,"a":-0.25,"b":0.21,"n":-0.41},{"t":444,"a":0.24,"b":-0.23,"n":0.4},{"t":450,"a":-0.21,"b":0.22,"n":-0.39},{"t":456,"a":0.24,"b":-0.24,"n":0.41},{"t":462,"a":-0.23,"b":0.21,"n":-0.4},{"t":468,"a":0.23,"b":-0.22,"n":0.39},{"t":474,"a":-0.25,"b":0.23,"n":-0.41},
{"t":480,"a":0.23,"b":-0.22,"n":0.4},{"t":486,"a":-0.21,"b":0.2,"n":-0.39},{"t":492,"a":0.2,"b":-0.21,"n":0.39},{"t":498,"a":-0.23,"b":0.19,"n":-0.4},{"t":504,"a":0.22,"b":-0.21,"n":0.4},{"t":510,"a":-0.2,"b":0.2,"n":-0.39},{"t":516,"a":0.22,"b":-0.22,"n":0.4},{"t":522,"a":-0.21,"b":0.19,"n":-0.39},{"t":528,"a":0.21,"b":-0.2,"n":0.39},{"t":534,"a":-0.23,"b":0.21,"n":-0.4},
{"t":540,"a":0.22,"b":-0.21,"n":0.4},{"t":546,"a":-0.2,"b":0.19,"n":-0.39},{"t":552,"a":0.19,"b":-0.2,"n":0.39},{"t":558,"a":-0.22,"b":0.18,"n":-0.4},{"t":564,"a":0.21,"b":-0.2,"n":0.4},{"t":570,"a":-0.19,"b":0.19,"n":-0.39},{"t":576,"a":0.21,"b":-0.21,"n":0.4},{"t":582,"a":-0.2,"b":0.18,"n":-0.39},{"t":588,"a":0.2,"b":-0.2,"n":0.39},{"t":594,"a":-0.22,"b":0.2,"n":-0.4},
{"t":600,"a":0.21,"b":-0.2,"n":0.4},{"t":606,"a":-0.19,"b":0.18,"n":-0.39},{"t":612,"a":0.18,"b":-0.19,"n":0.39},{"t":618,"a":-0.21,"b":0.18,"n":-0.4},{"t":624,"a":0.2,"b":-0.19,"n":0.4},{"t":630,"a":-0.18,"b":0.18,"n":-0.39},{"t":636,"a":0.2,"b":-0.2,"n":0.4},{"t":642,"a":-0.2,"b":0.17,"n":-0.39},{"t":648,"a":0.19,"b":-0.19,"n":0.39},{"t":654,"a":-0.21,"b":0.19,"n":-0.4},
{"t":660,"a":0.2,"b":-0.19,"n":0.4},{"t":666,"a":-0.18,"b":0.17,"n":-0.39},{"t":672,"a":0.18,"b":-0.18,"n":0.39},{"t":678,"a":-0.2,"b":0.17,"n":-0.4},{"t":684,"a":0.19,"b":-0.18,"n":0.4},{"t":690,"a":-0.17,"b":0.17,"n":-0.39},{"t":696,"a":0.19,"b":-0.19,"n":0.4},{"t":702,"a":-0.19,"b":0.16,"n":-0.39},{"t":708,"a":0.18,"b":-0.18,"n":0.39},{"t":714,"a":-0.2,"b":0.18,"n":-0.4},
{"t":720,"a":0.19,"b":-0.18,"n":0.39},{"t":726,"a":-0.17,"b":0.16,"n":-0.38},{"t":732,"a":0.17,"b":-0.17,"n":0.38},{"t":738,"a":-0.19,"b":0.16,"n":-0.39},{"t":744,"a":0.18,"b":-0.17,"n":0.39},{"t":750,"a":-0.16,"b":0.17,"n":-0.38},{"t":756,"a":0.18,"b":-0.18,"n":0.39},{"t":762,"a":-0.18,"b":0.15,"n":-0.38},{"t":768,"a":0.17,"b":-0.17,"n":0.38},{"t":774,"a":-0.19,"b":0.17,"n":-0.39},
{"t":780,"a":0.175,"b":-0.165,"n":0.37},{"t":786,"a":-0.16,"b":0.15,"n":-0.36},{"t":792,"a":0.15,"b":-0.157,"n":0.36},{"t":798,"a":-0.175,"b":0.145,"n":-0.37},{"t":804,"a":0.17,"b":-0.16,"n":0.37},{"t":810,"a":-0.15,"b":0.152,"n":-0.36},{"t":816,"a":0.17,"b":-0.165,"n":0.37},{"t":822,"a":-0.16,"b":0.142,"n":-0.36},{"t":828,"a":0.16,"b":-0.153,"n":0.36},{"t":834,"a":-0.17,"b":0.157,"n":-0.37},
{"t":840,"a":0.16,"b":-0.15,"n":0.35},{"t":846,"a":-0.15,"b":0.135,"n":-0.34},{"t":852,"a":0.14,"b":-0.143,"n":0.34},{"t":858,"a":-0.16,"b":0.132,"n":-0.35},{"t":864,"a":0.15,"b":-0.146,"n":0.35},{"t":870,"a":-0.14,"b":0.138,"n":-0.34},{"t":876,"a":0.155,"b":-0.15,"n":0.35},{"t":882,"a":-0.15,"b":0.129,"n":-0.34},{"t":888,"a":0.14,"b":-0.14,"n":0.34},{"t":894,"a":-0.16,"b":0.143,"n":-0.35},
{"t":900,"a":0.14,"b":-0.135,"n":0.33},{"t":906,"a":-0.13,"b":0.12,"n":-0.32},{"t":912,"a":0.12,"b":-0.128,"n":0.32},{"t":918,"a":-0.14,"b":0.119,"n":-0.33},{"t":924,"a":0.13,"b":-0.131,"n":0.33},{"t":930,"a":-0.12,"b":0.124,"n":-0.32},{"t":936,"a":0.14,"b":-0.135,"n":0.33},{"t":942,"a":-0.13,"b":0.116,"n":-0.32},{"t":948,"a":0.13,"b":-0.126,"n":0.32},{"t":954,"a":-0.14,"b":0.128,"n":-0.33},
{"t":960,"a":0.12,"b":-0.12,"n":0.31},{"t":966,"a":-0.11,"b":0.108,"n":-0.3},{"t":972,"a":0.11,"b":-0.114,"n":0.3},{"t":978,"a":-0.12,"b":0.106,"n":-0.31},{"t":984,"a":0.11,"b":-0.116,"n":0.31},{"t":990,"a":-0.1,"b":0.11,"n":-0.3},{"t":996,"a":0.12,"b":-0.12,"n":0.31},{"t":1002,"a":-0.11,"b":0.103,"n":-0.3},{"t":1008,"a":0.11,"b":-0.112,"n":0.3},{"t":1014,"a":-0.12,"b":0.114,"n":-0.31},
{"t":1020,"a":0.1,"b":-0.1,"n":0.3},{"t":1026,"a":-0.092,"b":0.09,"n":-0.29},{"t":1032,"a":0.088,"b":-0.095,"n":0.29},{"t":1038,"a":-0.1,"b":0.088,"n":-0.3},{"t":1044,"a":0.095,"b":-0.097,"n":0.3},{"t":1050,"a":-0.085,"b":0.092,"n":-0.29},{"t":1056,"a":0.097,"b":-0.1,"n":0.3},{"t":1062,"a":-0.093,"b":0.086,"n":-0.29},{"t":1068,"a":0.09,"b":-0.093,"n":0.29},{"t":1074,"a":-0.098,"b":0.095,"n":-0.3},
{"t":1080,"a":0.08,"b":-0.085,"n":0.28},{"t":1086,"a":-0.074,"b":0.077,"n":-0.27},{"t":1092,"a":0.07,"b":-0.081,"n":0.27},{"t":1098,"a":-0.08,"b":0.075,"n":-0.28},{"t":1104,"a":0.076,"b":-0.082,"n":0.28},{"t":1110,"a":-0.068,"b":0.078,"n":-0.27},{"t":1116,"a":0.078,"b":-0.085,"n":0.28},{"t":1122,"a":-0.074,"b":0.073,"n":-0.27},{"t":1128,"a":0.072,"b":-0.079,"n":0.27},{"t":1134,"a":-0.078,"b":0.081,"n":-0.28},
{"t":1140,"a":0.065,"b":-0.07,"n":0.26},{"t":1146,"a":-0.06,"b":0.063,"n":-0.25},{"t":1152,"a":0.057,"b":-0.067,"n":0.25},{"t":1158,"a":-0.065,"b":0.062,"n":-0.26},{"t":1164,"a":0.062,"b":-0.068,"n":0.26},{"t":1170,"a":-0.055,"b":0.064,"n":-0.25},{"t":1176,"a":0.063,"b":-0.07,"n":0.26},{"t":1182,"a":-0.06,"b":0.06,"n":-0.25},{"t":1188,"a":0.058,"b":-0.065,"n":0.25},{"t":1194,"a":-0.064,"b":0.067,"n":-0.26},
{"t":1200,"a":0.045,"b":-0.055,"n":0.24},{"t":1206,"a":-0.041,"b":0.05,"n":-0.23},{"t":1212,"a":0.04,"b":-0.052,"n":0.23},{"t":1218,"a":-0.045,"b":0.048,"n":-0.24},{"t":1224,"a":0.043,"b":-0.053,"n":0.24},{"t":1230,"a":-0.038,"b":0.051,"n":-0.23},{"t":1236,"a":0.044,"b":-0.055,"n":0.24},{"t":1242,"a":-0.042,"b":0.047,"n":-0.23},{"t":1248,"a":0.04,"b":-0.051,"n":0.22},{"t":1254,"a":-0.044,"b":0.052,"n":-0.22},
{"t":1260,"a":0.03,"b":-0.035,"n":0.21},{"t":1266,"a":-0.028,"b":0.032,"n":-0.21},{"t":1272,"a":0.026,"b":-0.033,"n":0.2},{"t":1278,"a":-0.03,"b":0.031,"n":-0.2},{"t":1284,"a":0.029,"b":-0.034,"n":0.19},{"t":1290,"a":-0.026,"b":0.032,"n":-0.19},{"t":1296,"a":0.029,"b":-0.035,"n":0.18},{"t":1302,"a":-0.028,"b":0.03,"n":-0.17},{"t":1308,"a":0.027,"b":-0.033,"n":0.16},{"t":1314,"a":-0.029,"b":0.033,"n":-0.15},
{"t":1320,"a":0.02,"b":-0.022,"n":0.13},{"t":1326,"a":-0.018,"b":0.02,"n":-0.11},{"t":1332,"a":0.018,"b":-0.021,"n":0.08},{"t":1338,"a":-0.02,"b":0.019,"n":-0.05},{"t":1344,"a":0.019,"b":-0.021,"n":0.03},{"t":1350,"a":-0.017,"b":0.02,"n":-0.02},{"t":1356,"a":0.019,"b":-0.022,"n":0.03},{"t":1362,"a":-0.019,"b":0.019,"n":0.01},{"t":1368,"a":0.018,"b":-0.02,"n":0},{"t":1374,"a":-0.02,"b":0.021,"n":-0.005},
{"t":1380,"a":0.013,"b":-0.015,"n":0.004},{"t":1386,"a":-0.012,"b":0.014,"n":-0.004},{"t":1392,"a":0.011,"b":-0.014,"n":0.004},{"t":1398,"a":-0.013,"b":0.013,"n":-0.004},{"t":1404,"a":0.012,"b":-0.015,"n":0.003},{"t":1410,"a":-0.011,"b":0.014,"n":-0.003},{"t":1416,"a":0.013,"b":-0.015,"n":0.003},{"t":1422,"a":-0.012,"b":0.013,"n":-0.003},{"t":1428,"a":0.012,"b":-0.014,"n":0.003},{"t":1434,"a":-0.013,"b":0.014,"n":-0.003},
{"t":1440,"a":0.01,"b":-0.012,"n":0.003},{"t":1446,"a":-0.009,"b":0.011,"n":-0.003},{"t":1452,"a":0.009,"b":-0.011,"n":0.002},{"t":1458,"a":-0.01,"b":0.011,"n":-0.002},{"t":1464,"a":0.01,"b":-0.012,"n":0.002},{"t":1470,"a":-0.009,"b":0.011,"n":-0.002},{"t":1476,"a":0.01,"b":-0.012,"n":0.002},{"t":1482,"a":-0.009,"b":0.01,"n":-0.002}
]
},
"spacing":52,
"vconcat":[
{"spacing":5,"vconcat":[
{"width":1307,"height":354,"data":{"name":"A"},"layer":[
{"mark":{"type":"line","color":"#11ee11","strokeWidth":1.7,"clip":true},"encoding":{"x":{"field":"t","type":"quantitative","scale":{"domain":[0,1500],"nice":false,"zero":false},"axis":{"orient":"bottom","values":[0,500,1000,1500],"format":".6~g","title":"时间/s"}},"y":{"field":"a","type":"quantitative","scale":{"domain":[-0.05,0.05],"nice":false,"zero":false},"axis":{"orient":"left","values":[-0.05,0,0.05],"format":".6~g","title":"x₁位移/m","titlePadding":0}}}},
{"mark":{"type":"line","opacity":0,"clip":true},"encoding":{"x":{"field":"t","type":"quantitative","scale":{"domain":[0,1500],"nice":false,"zero":false},"axis":{"orient":"top","values":[0,500,1000,1500],"labels":false,"title":null}},"y":{"field":"a","type":"quantitative","scale":{"domain":[-0.05,0.05],"nice":false,"zero":false},"axis":{"orient":"right","values":[-0.05,0,0.05],"labels":false,"title":null}}}}
],"resolve":{"axis":{"x":"independent","y":"independent"}}},
{"width":1307,"height":354,"data":{"name":"A"},"layer":[
{"mark":{"type":"line","color":"#0000ff","strokeWidth":1.7,"clip":true},"encoding":{"x":{"field":"t","type":"quantitative","scale":{"domain":[0,1500],"nice":false,"zero":false},"axis":{"orient":"bottom","values":[0,500,1000,1500],"format":".6~g","title":"时间/s"}},"y":{"field":"b","type":"quantitative","scale":{"domain":[-0.05,0.05],"nice":false,"zero":false},"axis":{"orient":"left","values":[-0.05,0,0.05],"format":".6~g","title":"x₂位移/m","titlePadding":0}}}},
{"mark":{"type":"line","opacity":0,"clip":true},"encoding":{"x":{"field":"t","type":"quantitative","scale":{"domain":[0,1500],"nice":false,"zero":false},"axis":{"orient":"top","values":[0,500,1000,1500],"labels":false,"title":null}},"y":{"field":"b","type":"quantitative","scale":{"domain":[-0.05,0.05],"nice":false,"zero":false},"axis":{"orient":"right","values":[-0.05,0,0.05],"labels":false,"title":null}}}}
],"resolve":{"axis":{"x":"independent","y":"independent"}}},
{"width":1307,"height":354,"data":{"name":"A"},"title":{"text":"(a) A点","orient":"bottom","anchor":"middle","frame":"group","offset":15},"layer":[
{"mark":{"type":"line","color":"#ff0000","strokeWidth":1.7,"clip":true},"encoding":{"x":{"field":"t","type":"quantitative","scale":{"domain":[0,1500],"nice":false,"zero":false},"axis":{"orient":"bottom","values":[0,500,1000,1500],"format":".6~g","title":"时间/s"}},"y":{"field":"n","type":"quantitative","scale":{"domain":[-0.05,0.05],"nice":false,"zero":false},"axis":{"orient":"left","values":[-0.05,0,0.05],"format":".6~g","title":"xₙ位移/m","titlePadding":0}}}},
{"mark":{"type":"line","opacity":0,"clip":true},"encoding":{"x":{"field":"t","type":"quantitative","scale":{"domain":[0,1500],"nice":false,"zero":false},"axis":{"orient":"top","values":[0,500,1000,1500],"labels":false,"title":null}},"y":{"field":"n","type":"quantitative","scale":{"domain":[-0.05,0.05],"nice":false,"zero":false},"axis":{"orient":"right","values":[-0.05,0,0.05],"labels":false,"title":null}}}}
],"resolve":{"axis":{"x":"independent","y":"independent"}}}
]},
{"spacing":5,"vconcat":[
{"width":1307,"height":354,"data":{"name":"B"},"layer":[
{"mark":{"type":"line","color":"#11ee11","strokeWidth":1.7,"clip":true},"encoding":{"x":{"field":"t","type":"quantitative","scale":{"domain":[0,500],"nice":false,"zero":false},"axis":{"orient":"bottom","values":[0,100,200,300,400,500],"format":".6~g","title":"时间/s"}},"y":{"field":"a","type":"quantitative","scale":{"domain":[-0.2,0.2],"nice":false,"zero":false},"axis":{"orient":"left","values":[-0.2,0,0.2],"format":".6~g","title":"x₁位移/m"}}}},
{"mark":{"type":"line","opacity":0,"clip":true},"encoding":{"x":{"field":"t","type":"quantitative","scale":{"domain":[0,500],"nice":false,"zero":false},"axis":{"orient":"top","values":[0,100,200,300,400,500],"labels":false,"title":null}},"y":{"field":"a","type":"quantitative","scale":{"domain":[-0.2,0.2],"nice":false,"zero":false},"axis":{"orient":"right","values":[-0.2,0,0.2],"labels":false,"title":null}}}}
],"resolve":{"axis":{"x":"independent","y":"independent"}}},
{"width":1307,"height":354,"data":{"name":"B"},"layer":[
{"mark":{"type":"line","color":"#0000ff","strokeWidth":1.7,"clip":true},"encoding":{"x":{"field":"t","type":"quantitative","scale":{"domain":[0,500],"nice":false,"zero":false},"axis":{"orient":"bottom","values":[0,100,200,300,400,500],"format":".6~g","title":"时间/s"}},"y":{"field":"b","type":"quantitative","scale":{"domain":[-0.2,0.2],"nice":false,"zero":false},"axis":{"orient":"left","values":[-0.2,0,0.2],"format":".6~g","title":"x₂位移/m"}}}},
{"mark":{"type":"line","opacity":0,"clip":true},"encoding":{"x":{"field":"t","type":"quantitative","scale":{"domain":[0,500],"nice":false,"zero":false},"axis":{"orient":"top","values":[0,100,200,300,400,500],"labels":false,"title":null}},"y":{"field":"b","type":"quantitative","scale":{"domain":[-0.2,0.2],"nice":false,"zero":false},"axis":{"orient":"right","values":[-0.2,0,0.2],"labels":false,"title":null}}}}
],"resolve":{"axis":{"x":"independent","y":"independent"}}},
{"width":1307,"height":354,"data":{"name":"B"},"title":{"text":"(b) B点","orient":"bottom","anchor":"middle","frame":"group","offset":15},"layer":[
{"mark":{"type":"line","color":"#ff0000","strokeWidth":1.7,"clip":true},"encoding":{"x":{"field":"t","type":"quantitative","scale":{"domain":[0,500],"nice":false,"zero":false},"axis":{"orient":"bottom","values":[0,100,200,300,400,500],"format":".6~g","title":"时间/s"}},"y":{"field":"n","type":"quantitative","scale":{"domain":[-0.2,0.2],"nice":false,"zero":false},"axis":{"orient":"left","values":[-0.2,0,0.2],"format":".6~g","title":"xₙ位移/m"}}}},
{"mark":{"type":"line","opacity":0,"clip":true},"encoding":{"x":{"field":"t","type":"quantitative","scale":{"domain":[0,500],"nice":false,"zero":false},"axis":{"orient":"top","values":[0,100,200,300,400,500],"labels":false,"title":null}},"y":{"field":"n","type":"quantitative","scale":{"domain":[-0.2,0.2],"nice":false,"zero":false},"axis":{"orient":"right","values":[-0.2,0,0.2],"labels":false,"title":null}}}}
],"resolve":{"axis":{"x":"independent","y":"independent"}}}
]},
{"spacing":5,"vconcat":[
{"width":1307,"height":354,"data":{"name":"D"},"layer":[
{"mark":{"type":"line","color":"#11ee11","strokeWidth":1.7,"clip":true},"encoding":{"x":{"field":"t","type":"quantitative","scale":{"domain":[0,1000],"nice":false,"zero":false},"axis":{"orient":"bottom","values":[0,200,400,600,800,1000],"format":".6~g","title":"时间/s"}},"y":{"field":"a","type":"quantitative","scale":{"domain":[-1,1],"nice":false,"zero":false},"axis":{"orient":"left","values":[-1,0,1],"format":".6~g","title":"x₁位移/m"}}}},
{"mark":{"type":"line","opacity":0,"clip":true},"encoding":{"x":{"field":"t","type":"quantitative","scale":{"domain":[0,1000],"nice":false,"zero":false},"axis":{"orient":"top","values":[0,200,400,600,800,1000],"labels":false,"title":null}},"y":{"field":"a","type":"quantitative","scale":{"domain":[-1,1],"nice":false,"zero":false},"axis":{"orient":"right","values":[-1,0,1],"labels":false,"title":null}}}}
],"resolve":{"axis":{"x":"independent","y":"independent"}}},
{"width":1307,"height":354,"data":{"name":"D"},"layer":[
{"mark":{"type":"line","color":"#0000ff","strokeWidth":1.7,"clip":true},"encoding":{"x":{"field":"t","type":"quantitative","scale":{"domain":[0,1000],"nice":false,"zero":false},"axis":{"orient":"bottom","values":[0,200,400,600,800,1000],"format":".6~g","title":"时间/s"}},"y":{"field":"b","type":"quantitative","scale":{"domain":[-1,1],"nice":false,"zero":false},"axis":{"orient":"left","values":[-1,0,1],"format":".6~g","title":"x₂位移/m"}}}},
{"mark":{"type":"line","opacity":0,"clip":true},"encoding":{"x":{"field":"t","type":"quantitative","scale":{"domain":[0,1000],"nice":false,"zero":false},"axis":{"orient":"top","values":[0,200,400,600,800,1000],"labels":false,"title":null}},"y":{"field":"b","type":"quantitative","scale":{"domain":[-1,1],"nice":false,"zero":false},"axis":{"orient":"right","values":[-1,0,1],"labels":false,"title":null}}}}
],"resolve":{"axis":{"x":"independent","y":"independent"}}},
{"width":1307,"height":354,"data":{"name":"D"},"title":{"text":"(c) D点","orient":"bottom","anchor":"middle","frame":"group","offset":15},"layer":[
{"mark":{"type":"line","color":"#ff0000","strokeWidth":1.7,"clip":true},"encoding":{"x":{"field":"t","type":"quantitative","scale":{"domain":[0,1000],"nice":false,"zero":false},"axis":{"orient":"bottom","values":[0,200,400,600,800,1000],"format":".6~g","title":"时间/s"}},"y":{"field":"n","type":"quantitative","scale":{"domain":[-1,1],"nice":false,"zero":false},"axis":{"orient":"left","values":[-1,0,1],"format":".6~g","title":"xₙ位移/m"}}}},
{"mark":{"type":"line","opacity":0,"clip":true},"encoding":{"x":{"field":"t","type":"quantitative","scale":{"domain":[0,1000],"nice":false,"zero":false},"axis":{"orient":"top","values":[0,200,400,600,800,1000],"labels":false,"title":null}},"y":{"field":"n","type":"quantitative","scale":{"domain":[-1,1],"nice":false,"zero":false},"axis":{"orient":"right","values":[-1,0,1],"labels":false,"title":null}}}}
],"resolve":{"axis":{"x":"independent","y":"independent"}}}
]},
{"spacing":5,"vconcat":[
{"width":1307,"height":354,"data":{"name":"E"},"layer":[
{"mark":{"type":"line","color":"#11ee11","strokeWidth":1.7,"clip":true},"encoding":{"x":{"field":"t","type":"quantitative","scale":{"domain":[0,1500],"nice":false,"zero":false},"axis":{"orient":"bottom","values":[0,500,1000,1500],"format":".6~g","title":"时间/s"}},"y":{"field":"a","type":"quantitative","scale":{"domain":[-1,1],"nice":false,"zero":false},"axis":{"orient":"left","values":[-1,0,1],"format":".6~g","title":"x₁位移/m"}}}},
{"mark":{"type":"line","opacity":0,"clip":true},"encoding":{"x":{"field":"t","type":"quantitative","scale":{"domain":[0,1500],"nice":false,"zero":false},"axis":{"orient":"top","values":[0,500,1000,1500],"labels":false,"title":null}},"y":{"field":"a","type":"quantitative","scale":{"domain":[-1,1],"nice":false,"zero":false},"axis":{"orient":"right","values":[-1,0,1],"labels":false,"title":null}}}}
],"resolve":{"axis":{"x":"independent","y":"independent"}}},
{"width":1307,"height":354,"data":{"name":"E"},"layer":[
{"mark":{"type":"line","color":"#0000ff","strokeWidth":1.7,"clip":true},"encoding":{"x":{"field":"t","type":"quantitative","scale":{"domain":[0,1500],"nice":false,"zero":false},"axis":{"orient":"bottom","values":[0,500,1000,1500],"format":".6~g","title":"时间/s"}},"y":{"field":"b","type":"quantitative","scale":{"domain":[-1,1],"nice":false,"zero":false},"axis":{"orient":"left","values":[-1,0,1],"format":".6~g","title":"x₂位移/m"}}}},
{"mark":{"type":"line","opacity":0,"clip":true},"encoding":{"x":{"field":"t","type":"quantitative","scale":{"domain":[0,1500],"nice":false,"zero":false},"axis":{"orient":"top","values":[0,500,1000,1500],"labels":false,"title":null}},"y":{"field":"b","type":"quantitative","scale":{"domain":[-1,1],"nice":false,"zero":false},"axis":{"orient":"right","values":[-1,0,1],"labels":false,"title":null}}}}
],"resolve":{"axis":{"x":"independent","y":"independent"}}},
{"width":1307,"height":354,"data":{"name":"E"},"title":{"text":"(d) E点","orient":"bottom","anchor":"middle","frame":"group","offset":15},"layer":[
{"mark":{"type":"line","color":"#ff0000","strokeWidth":1.7,"clip":true},"encoding":{"x":{"field":"t","type":"quantitative","scale":{"domain":[0,1500],"nice":false,"zero":false},"axis":{"orient":"bottom","values":[0,500,1000,1500],"format":".6~g","title":"时间/s"}},"y":{"field":"n","type":"quantitative","scale":{"domain":[-1,1],"nice":false,"zero":false},"axis":{"orient":"left","values":[-1,0,1],"format":".6~g","title":"xₙ位移/m"}}}},
{"mark":{"type":"line","opacity":0,"clip":true},"encoding":{"x":{"field":"t","type":"quantitative","scale":{"domain":[0,1500],"nice":false,"zero":false},"axis":{"orient":"top","values":[0,500,1000,1500],"labels":false,"title":null}},"y":{"field":"n","type":"quantitative","scale":{"domain":[-1,1],"nice":false,"zero":false},"axis":{"orient":"right","values":[-1,0,1],"labels":false,"title":null}}}}
],"resolve":{"axis":{"x":"independent","y":"independent"}}}
]}
]
}
